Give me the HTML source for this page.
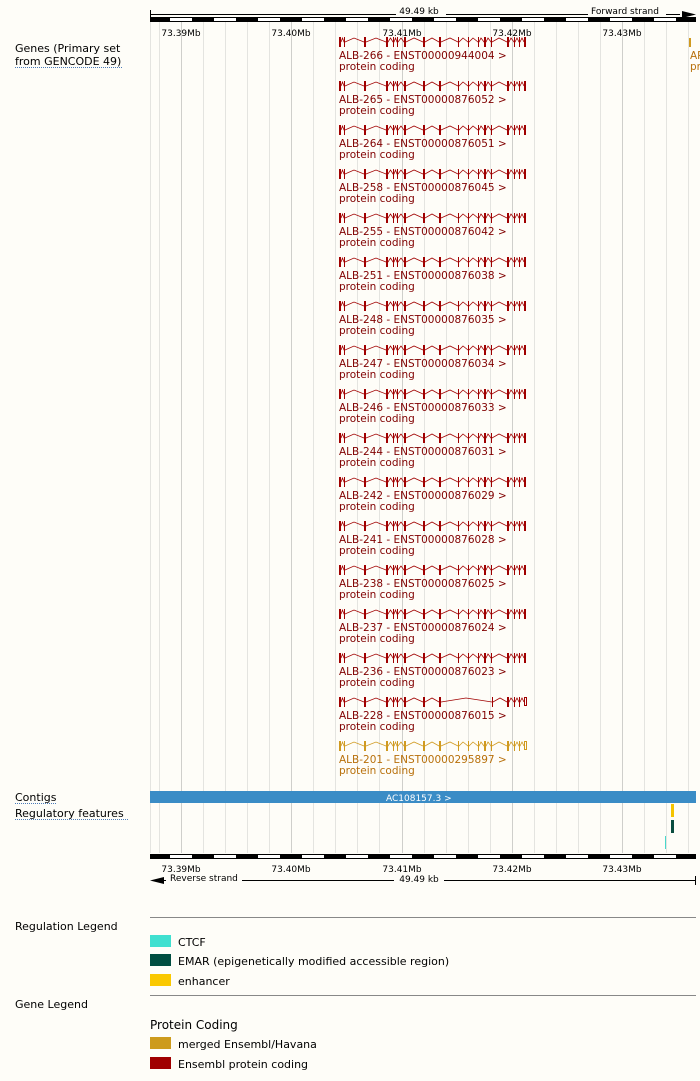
<!DOCTYPE html>
<html><head><style>
html,body{margin:0;padding:0;background:#fefdf8;}
svg{display:block;font-family:"DejaVu Sans","Liberation Sans",sans-serif;}
</style></head><body>
<svg width="700" height="1081" viewBox="0 0 700 1081" xmlns="http://www.w3.org/2000/svg">
<defs>
<pattern id="rb" x="148" y="0" width="44" height="10" patternUnits="userSpaceOnUse">
<rect x="0" y="0" width="22" height="10" fill="#000"/><rect x="22" y="0" width="22" height="10" fill="#fff"/>
</pattern>
<g id="ex" stroke="none">
<rect x="339" y="-5" width="2" height="10"/><rect x="344" y="-5" width="1" height="10"/><rect x="364" y="-5" width="2" height="10"/><rect x="386" y="-5" width="2" height="10"/><rect x="393" y="-5" width="1" height="10"/><rect x="397" y="-5" width="1" height="10"/><rect x="404" y="-5" width="2" height="10"/><rect x="423" y="-5" width="2" height="10"/><rect x="439" y="-5" width="2" height="10"/><rect x="458" y="-5" width="1" height="10"/><rect x="468" y="-5" width="1" height="10"/><rect x="478" y="-5" width="1" height="10"/><rect x="484" y="-5" width="2" height="10"/><rect x="491" y="-5" width="1" height="10"/><rect x="507" y="-5" width="2" height="10"/><rect x="514" y="-5" width="1" height="10"/><rect x="519" y="-5" width="1" height="10"/>
</g>
<polyline id="in" fill="none" stroke-width="0.8" points="341,0 342.5,-4 344,0 345,0 354,-4 364,0 366,0 376,-4 386,0 388,0 390.5,-4 393,0 394,0 395.5,-4 397,0 398,0 401,-4 404,0 406,0 414,-4 423,0 425,0 432,-4 439,0 441,0 450,-4 458,0 459,0 463,-4 468,0 469,0 473,-4 478,0 479,0 481,-4 484,0 486,0 488,-4 491,0 492,0 499,-4 507,0 509,0 511,-4 514,0 515,0 517,-4 519,0 520,0 522,-4 524,0"/>
<g id="tr"><use href="#ex"/><use href="#in"/><rect x="524" y="-5" width="2" height="10" stroke="none"/></g>
</defs>

<!-- grid -->
<g stroke="#e4e4e0" stroke-width="1">
<line x1="150.5" y1="22" x2="150.5" y2="853"/><line x1="159.5" y1="22" x2="159.5" y2="853"/><line x1="203.5" y1="22" x2="203.5" y2="853"/><line x1="225.5" y1="22" x2="225.5" y2="853"/><line x1="247.5" y1="22" x2="247.5" y2="853"/><line x1="269.5" y1="22" x2="269.5" y2="853"/><line x1="313.5" y1="22" x2="313.5" y2="853"/><line x1="335.5" y1="22" x2="335.5" y2="853"/><line x1="357.5" y1="22" x2="357.5" y2="853"/><line x1="379.5" y1="22" x2="379.5" y2="853"/><line x1="424.5" y1="22" x2="424.5" y2="853"/><line x1="446.5" y1="22" x2="446.5" y2="853"/><line x1="468.5" y1="22" x2="468.5" y2="853"/><line x1="490.5" y1="22" x2="490.5" y2="853"/><line x1="534.5" y1="22" x2="534.5" y2="853"/><line x1="556.5" y1="22" x2="556.5" y2="853"/><line x1="578.5" y1="22" x2="578.5" y2="853"/><line x1="600.5" y1="22" x2="600.5" y2="853"/><line x1="644.5" y1="22" x2="644.5" y2="853"/><line x1="666.5" y1="22" x2="666.5" y2="853"/><line x1="688.5" y1="22" x2="688.5" y2="853"/>
</g>
<g stroke="#cfcfcb" stroke-width="1">
<line x1="181.5" y1="22" x2="181.5" y2="853"/><line x1="291.5" y1="22" x2="291.5" y2="853"/><line x1="402.5" y1="22" x2="402.5" y2="853"/><line x1="512.5" y1="22" x2="512.5" y2="853"/><line x1="622.5" y1="22" x2="622.5" y2="853"/>
</g>

<!-- top ruler -->
<line x1="150" y1="14.5" x2="680" y2="14.5" stroke="#000"/>
<line x1="150.5" y1="10" x2="150.5" y2="19" stroke="#000"/>
<rect x="396" y="8" width="50" height="12" fill="#fefdf8"/>
<text x="419" y="14" font-size="9" text-anchor="middle">49.49 kb</text>
<rect x="588" y="6" width="78" height="12" fill="#fefdf8"/>
<text x="591" y="14" font-size="9">Forward strand</text>
<polygon points="682,11 696,14.5 682,18" fill="#000"/>
<rect x="150.5" y="17.5" width="545" height="4" fill="url(#rb)" stroke="#000"/>
<g font-size="9" text-anchor="middle">
<text x="181" y="36">73.39Mb</text><text x="291" y="36">73.40Mb</text><text x="402" y="36">73.41Mb</text><text x="512" y="36">73.42Mb</text><text x="622" y="36">73.43Mb</text>
</g>

<!-- left labels -->
<g font-size="11" fill="#000">
<text x="15" y="52">Genes (Primary set</text><text x="15" y="65">from GENCODE 49)</text>
<text x="15" y="801">Contigs</text><text x="15" y="817">Regulatory features</text>
<text x="15" y="930">Regulation Legend</text><text x="15" y="1008">Gene Legend</text>
</g>
<g stroke="#4a7ab8" stroke-dasharray="1,1"><line x1="15" y1="67.5" x2="123" y2="67.5"/><line x1="15" y1="803.5" x2="57" y2="803.5"/><line x1="15" y1="819.5" x2="129" y2="819.5"/></g>

<!-- transcripts -->
<g fill="#a00000" stroke="#a00000">
<use href="#tr" y="42"/><use href="#tr" y="86"/><use href="#tr" y="130"/><use href="#tr" y="174"/><use href="#tr" y="218"/><use href="#tr" y="262"/><use href="#tr" y="306"/><use href="#tr" y="350"/><use href="#tr" y="394"/><use href="#tr" y="438"/><use href="#tr" y="482"/><use href="#tr" y="526"/><use href="#tr" y="570"/><use href="#tr" y="614"/><use href="#tr" y="658"/>
</g>
<g fill="#a00000" stroke="#a00000" transform="translate(0,702)">
<g stroke="none">
<rect x="339" y="-5" width="2" height="10"/><rect x="344" y="-5" width="1" height="10"/><rect x="364" y="-5" width="2" height="10"/><rect x="386" y="-5" width="2" height="10"/><rect x="393" y="-5" width="1" height="10"/><rect x="397" y="-5" width="1" height="10"/><rect x="404" y="-5" width="2" height="10"/><rect x="423" y="-5" width="2" height="10"/><rect x="439" y="-5" width="2" height="10"/><rect x="492" y="-5" width="1" height="10"/><rect x="507" y="-5" width="2" height="10"/><rect x="514" y="-5" width="1" height="10"/><rect x="519" y="-5" width="1" height="10"/>
</g>
<polyline fill="none" stroke-width="0.8" points="341,0 342.5,-4 344,0 345,0 354,-4 364,0 366,0 376,-4 386,0 388,0 390.5,-4 393,0 394,0 395.5,-4 397,0 398,0 401,-4 404,0 406,0 414,-4 423,0 425,0 432,-4 439,0 441,0 466,-4 492,0 493,0 500,-4 507,0 509,0 511,-4 514,0 515,0 517,-4 519,0 520,0 522,-4 524,0"/>
<rect x="524.5" y="-4.5" width="2" height="8" fill="none" stroke-width="1"/>
</g>
<g fill="#d09a20" stroke="#d09a20" transform="translate(0,746)">
<use href="#ex"/><use href="#in"/><rect x="524.5" y="-4.5" width="2" height="8" fill="none"/>
</g>
<rect x="689" y="38" width="2" height="9" fill="#d09a20"/>
<text x="690" y="59" font-size="10.5" fill="#b8700b">AP</text><text x="690" y="70" font-size="10.5" fill="#b8700b">pr</text>

<g font-size="10.5" fill="#800000">
<text x="339" y="59">ALB-266 - ENST00000944004 &gt;</text><text x="339" y="70">protein coding</text>
<text x="339" y="103">ALB-265 - ENST00000876052 &gt;</text><text x="339" y="114">protein coding</text>
<text x="339" y="147">ALB-264 - ENST00000876051 &gt;</text><text x="339" y="158">protein coding</text>
<text x="339" y="191">ALB-258 - ENST00000876045 &gt;</text><text x="339" y="202">protein coding</text>
<text x="339" y="235">ALB-255 - ENST00000876042 &gt;</text><text x="339" y="246">protein coding</text>
<text x="339" y="279">ALB-251 - ENST00000876038 &gt;</text><text x="339" y="290">protein coding</text>
<text x="339" y="323">ALB-248 - ENST00000876035 &gt;</text><text x="339" y="334">protein coding</text>
<text x="339" y="367">ALB-247 - ENST00000876034 &gt;</text><text x="339" y="378">protein coding</text>
<text x="339" y="411">ALB-246 - ENST00000876033 &gt;</text><text x="339" y="422">protein coding</text>
<text x="339" y="455">ALB-244 - ENST00000876031 &gt;</text><text x="339" y="466">protein coding</text>
<text x="339" y="499">ALB-242 - ENST00000876029 &gt;</text><text x="339" y="510">protein coding</text>
<text x="339" y="543">ALB-241 - ENST00000876028 &gt;</text><text x="339" y="554">protein coding</text>
<text x="339" y="587">ALB-238 - ENST00000876025 &gt;</text><text x="339" y="598">protein coding</text>
<text x="339" y="631">ALB-237 - ENST00000876024 &gt;</text><text x="339" y="642">protein coding</text>
<text x="339" y="675">ALB-236 - ENST00000876023 &gt;</text><text x="339" y="686">protein coding</text>
<text x="339" y="719">ALB-228 - ENST00000876015 &gt;</text><text x="339" y="730">protein coding</text>
</g>
<g font-size="10.5" fill="#b8700b">
<text x="339" y="763">ALB-201 - ENST00000295897 &gt;</text><text x="339" y="774">protein coding</text>
</g>

<!-- contig -->
<rect x="150" y="791" width="546" height="12" fill="#3a8cc6"/>
<text x="386" y="801" font-size="9" fill="#fff">AC108157.3 &gt;</text>
<!-- regulatory -->
<rect x="671" y="804" width="3" height="13" fill="#f5c400"/>
<rect x="671" y="820" width="3" height="13" fill="#0a4d40"/>
<rect x="665" y="836" width="1" height="13" fill="#48d8cc"/>

<!-- bottom ruler -->
<rect x="150.5" y="854.5" width="545" height="4" fill="url(#rb)" stroke="#000"/>
<g font-size="9" text-anchor="middle">
<text x="181" y="872">73.39Mb</text><text x="291" y="872">73.40Mb</text><text x="402" y="872">73.41Mb</text><text x="512" y="872">73.42Mb</text><text x="622" y="872">73.43Mb</text>
</g>
<line x1="162" y1="880.5" x2="696" y2="880.5" stroke="#000"/>
<line x1="695.5" y1="876" x2="695.5" y2="885" stroke="#000"/>
<polygon points="150,880.5 164,877 164,884" fill="#000"/>
<rect x="166" y="874" width="76" height="12" fill="#fefdf8"/>
<text x="170" y="881" font-size="9">Reverse strand</text>
<rect x="394" y="874" width="50" height="12" fill="#fefdf8"/>
<text x="419" y="882" font-size="9" text-anchor="middle">49.49 kb</text>

<!-- legends -->
<line x1="150" y1="917.5" x2="696" y2="917.5" stroke="#888"/>
<line x1="150" y1="995.5" x2="696" y2="995.5" stroke="#888"/>
<rect x="150" y="935" width="21" height="12" fill="#40e0d0"/>
<rect x="150" y="954" width="21" height="12" fill="#004d40"/>
<rect x="150" y="974" width="21" height="12" fill="#fac800"/>
<rect x="150" y="1037" width="21" height="12" fill="#cd9b1d"/>
<rect x="150" y="1057" width="21" height="12" fill="#a00000"/>
<g font-size="11">
<text x="178" y="946">CTCF</text>
<text x="178" y="965">EMAR (epigenetically modified accessible region)</text>
<text x="178" y="985">enhancer</text>
<text x="150" y="1029" font-size="12">Protein Coding</text>
<text x="178" y="1048">merged Ensembl/Havana</text>
<text x="178" y="1068">Ensembl protein coding</text>
</g>
</svg>
</body></html>
